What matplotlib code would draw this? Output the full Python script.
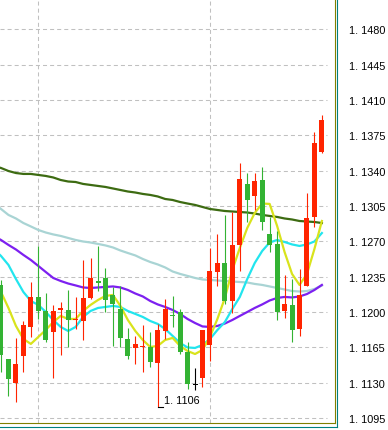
import numpy as np
import matplotlib.pyplot as plt
from matplotlib.lines import Line2D

plt.rcParams["lines.scale_dashes"] = False
plt.rcParams["font.family"] = ["Liberation Sans", "DejaVu Sans"]

# -------------------------------------------------------------------
# Bars (red = rising bar, green = falling bar)
# -------------------------------------------------------------------
opens = [1.12269, 1.11536, 1.11298, 1.11566, 1.11853, 1.12150, 1.12011, 1.11803,
         1.12021, 1.12021, 1.11922, 1.11912, 1.12140, 1.12308, 1.12338, 1.12170,
         1.12031, 1.11734, 1.11645, 1.11655, 1.11655, 1.11496, 1.11813, 1.11972,
         1.12001, 1.11605, 1.11279, 1.11348, 1.11675, 1.12397, 1.12486, 1.12109,
         1.12664, 1.13268, 1.13150, 1.13308, 1.12773, 1.12674, 1.12010, 1.12070,
         1.11832, 1.12259, 1.12942, 1.13585]
highs = [1.12318, 1.11536, 1.11744, 1.11912, 1.12298, 1.12655, 1.12189, 1.12071,
         1.12100, 1.12219, 1.12150, 1.12516, 1.12536, 1.12655, 1.12437, 1.12249,
         1.12259, 1.11843, 1.11764, 1.11873, 1.11803, 1.11883, 1.12130, 1.12160,
         1.12031, 1.11704, 1.11447, 1.11823, 1.12635, 1.12774, 1.12961, 1.12990,
         1.13476, 1.13377, 1.13377, 1.13437, 1.12941, 1.12802, 1.12367, 1.12327,
         1.12426, 1.13179, 1.13783, 1.13952]
lows = [1.11407, 1.11170, 1.11110, 1.11407, 1.11754, 1.11932, 1.11704, 1.11348,
        1.11576, 1.11655, 1.11833, 1.11724, 1.12130, 1.12209, 1.12001, 1.11664,
        1.11655, 1.11536, 1.11487, 1.11407, 1.11457, 1.11060, 1.11734, 1.11853,
        1.11585, 1.11239, 1.11229, 1.11259, 1.11516, 1.12259, 1.12079, 1.11990,
        1.12406, 1.12892, 1.13011, 1.12813, 1.12594, 1.11921, 1.11941, 1.11703,
        1.11763, 1.12259, 1.12843, 1.13575]
closes = [1.11576, 1.11338, 1.11487, 1.11873, 1.12150, 1.12011, 1.11724, 1.12011,
          1.12041, 1.11922, 1.11932, 1.12140, 1.12338, 1.12288, 1.12120, 1.12080,
          1.11744, 1.11566, 1.11685, 1.11665, 1.11506, 1.11823, 1.12031, 1.11962,
          1.11605, 1.11289, 1.11279, 1.11823, 1.12407, 1.12486, 1.12109, 1.12664,
          1.13318, 1.13110, 1.13298, 1.12892, 1.12664, 1.12000, 1.12080, 1.11822,
          1.12169, 1.12932, 1.13674, 1.13902]

# -------------------------------------------------------------------
# Moving averages (first value sits one bar left of the first visible bar)
# -------------------------------------------------------------------
ma_darkgreen = [1.13447, 1.13427, 1.13397, 1.13377, 1.13368, 1.13368, 1.13358, 1.13348,
                1.13333, 1.13308, 1.13293, 1.13288, 1.13269, 1.13259, 1.13249, 1.13239,
                1.13224, 1.13209, 1.13194, 1.13184, 1.13170, 1.13160, 1.13145, 1.13120,
                1.13110, 1.13090, 1.13075, 1.13061, 1.13041, 1.13021, 1.13011, 1.13001,
                1.12996, 1.12991, 1.12986, 1.12976, 1.12962, 1.12952, 1.12942, 1.12927,
                1.12917, 1.12902, 1.12897, 1.12892, 1.12882]
ma_lightteal = [1.13080, 1.13021, 1.12962, 1.12927, 1.12882, 1.12848, 1.12813, 1.12788,
                1.12769, 1.12754, 1.12734, 1.12714, 1.12699, 1.12689, 1.12675, 1.12660,
                1.12640, 1.12610, 1.12585, 1.12561, 1.12526, 1.12496, 1.12472, 1.12442,
                1.12402, 1.12378, 1.12358, 1.12338, 1.12323, 1.12318, 1.12313, 1.12308,
                1.12303, 1.12298, 1.12293, 1.12279, 1.12269, 1.12254, 1.12239, 1.12224,
                1.12209, 1.12204, 1.12209, 1.12229, 1.12263]
ma_purple = [1.12754, 1.12714, 1.12665, 1.12620, 1.12566, 1.12516, 1.12457, 1.12397,
             1.12338, 1.12308, 1.12283, 1.12264, 1.12244, 1.12239, 1.12244, 1.12249,
             1.12254, 1.12244, 1.12219, 1.12184, 1.12155, 1.12110, 1.12076, 1.12051,
             1.12021, 1.11982, 1.11932, 1.11892, 1.11858, 1.11853, 1.11863, 1.11887,
             1.11922, 1.11962, 1.12001, 1.12041, 1.12076, 1.12115, 1.12140, 1.12150,
             1.12145, 1.12155, 1.12179, 1.12219, 1.12269]
ma_cyan = [1.12625, 1.12556, 1.12467, 1.12328, 1.12199, 1.12110, 1.12071, 1.12001,
           1.11922, 1.11853, 1.11813, 1.11853, 1.11952, 1.12011, 1.12041, 1.12051,
           1.12061, 1.12051, 1.12011, 1.11982, 1.11952, 1.11912, 1.11883, 1.11833,
           1.11764, 1.11694, 1.11650, 1.11645, 1.11675, 1.11734, 1.11823, 1.11902,
           1.12031, 1.12150, 1.12328, 1.12486, 1.12605, 1.12689, 1.12714, 1.12694,
           1.12670, 1.12655, 1.12670, 1.12699, 1.12783]
ma_yellow = [1.12378, 1.12199, 1.12041, 1.11863, 1.11734, 1.11685, 1.11754, 1.11823,
             1.11902, 1.11962, 1.11932, 1.11932, 1.12011, 1.12071, 1.12120, 1.12160,
             1.12170, 1.12061, 1.11922, 1.11813, 1.11724, 1.11655, 1.11665, 1.11724,
             1.11744, 1.11665, 1.11615, 1.11585, 1.11625, 1.11754, 1.11932, 1.12140,
             1.12417, 1.12635, 1.12833, 1.12981, 1.13075, 1.13071, 1.12853, 1.12595,
             1.12378, 1.12269, 1.12378, 1.12625, 1.12902]

price_ticks = [1.1095, 1.1130, 1.1165, 1.1200, 1.1235, 1.1270,
               1.1305, 1.1340, 1.1375, 1.1410, 1.1445, 1.1480]
tick_labels = ["1. 1095", "1. 1130", "1. 1165", "1. 1200", "1. 1235", "1. 1270",
               "1. 1305", "1. 1340", "1. 1375", "1. 1410", "1. 1445", "1. 1480"]
low_label = "1. 1106"
low_price = 1.1106
vgrid_bars = [5, 28]

RED = "#ff2400"
GREEN = "#33b333"

# -------------------------------------------------------------------
# Figure
# -------------------------------------------------------------------
W, H = 388, 431
fig = plt.figure(figsize=(W / 100, H / 100), dpi=100)
ax = fig.add_axes([0, 6.7 / H, 334.5 / W, 424.3 / H])

xmin, xmax = -0.134, 44.69
ax.set_xlim(xmin, xmax)
ax.set_ylim(1.10899, 1.1510)

# dashed grid
dash = (0, (2.9, 2.2))
ax.hlines(price_ticks, xmin, 43.75, colors="#c0c0c0", lw=0.75, linestyles=[dash], zorder=1)
ax.vlines(vgrid_bars, 1.10899, 1.1510, colors="#c0c0c0", lw=0.75, linestyles=[dash], zorder=1)

# moving averages
x_ma = np.arange(-1, len(ma_yellow) - 1)
ax.plot(x_ma, ma_lightteal, color="#a9d4d4", lw=1.6, zorder=2)
ax.plot(x_ma, ma_darkgreen, color="#3d6b12", lw=1.6, zorder=2)
ax.plot(x_ma, ma_purple, color="#7d20f0", lw=1.6, zorder=2)
ax.plot(x_ma, ma_cyan, color="#22e5ee", lw=1.6, zorder=2)
ax.plot(x_ma, ma_yellow, color="#d9e31c", lw=1.6, zorder=2)

# candles
o = np.array(opens)
c = np.array(closes)
x = np.arange(len(opens))
colors = np.where(c > o, RED, np.where(c < o, GREEN, "black"))
ax.vlines(x, lows, highs, colors=colors, lw=0.8, zorder=3)
body = np.maximum(np.abs(c - o), 0.00009)
ax.bar(x, body, bottom=np.minimum(o, c), width=0.67, color=colors, lw=0, zorder=4)

# lowest-price marker
low_bar = int(np.argmin(lows))
ax.plot([low_bar, low_bar + 0.75], [low_price, low_price], color="black", lw=0.8, zorder=5)
ax.text(low_bar + 0.8, low_price + 0.0007, low_label, fontsize=7.8, color="black",
        va="center", ha="left", zorder=5)

# axes look
ax.yaxis.tick_right()
ax.set_yticks(price_ticks)
ax.set_yticklabels(tick_labels)
ax.tick_params(axis="y", length=0, pad=10.5, labelsize=7.8, labelcolor="black")
ax.set_xticks([])
for side in ["left", "top"]:
    ax.spines[side].set_visible(False)
for side in ["right", "bottom"]:
    ax.spines[side].set_color("#808000")
    ax.spines[side].set_linewidth(0.8)

# outer teal frame
fig.add_artist(Line2D([336.5 / W, 336.5 / W], [1 - 427.5 / H, 1],
                      transform=fig.transFigure, color="#008080", lw=0.8))
fig.add_artist(Line2D([0, 336.5 / W], [1 - 427.5 / H, 1 - 427.5 / H],
                      transform=fig.transFigure, color="#008080", lw=0.8))

fig.savefig("out.png", dpi=100, facecolor="white")
